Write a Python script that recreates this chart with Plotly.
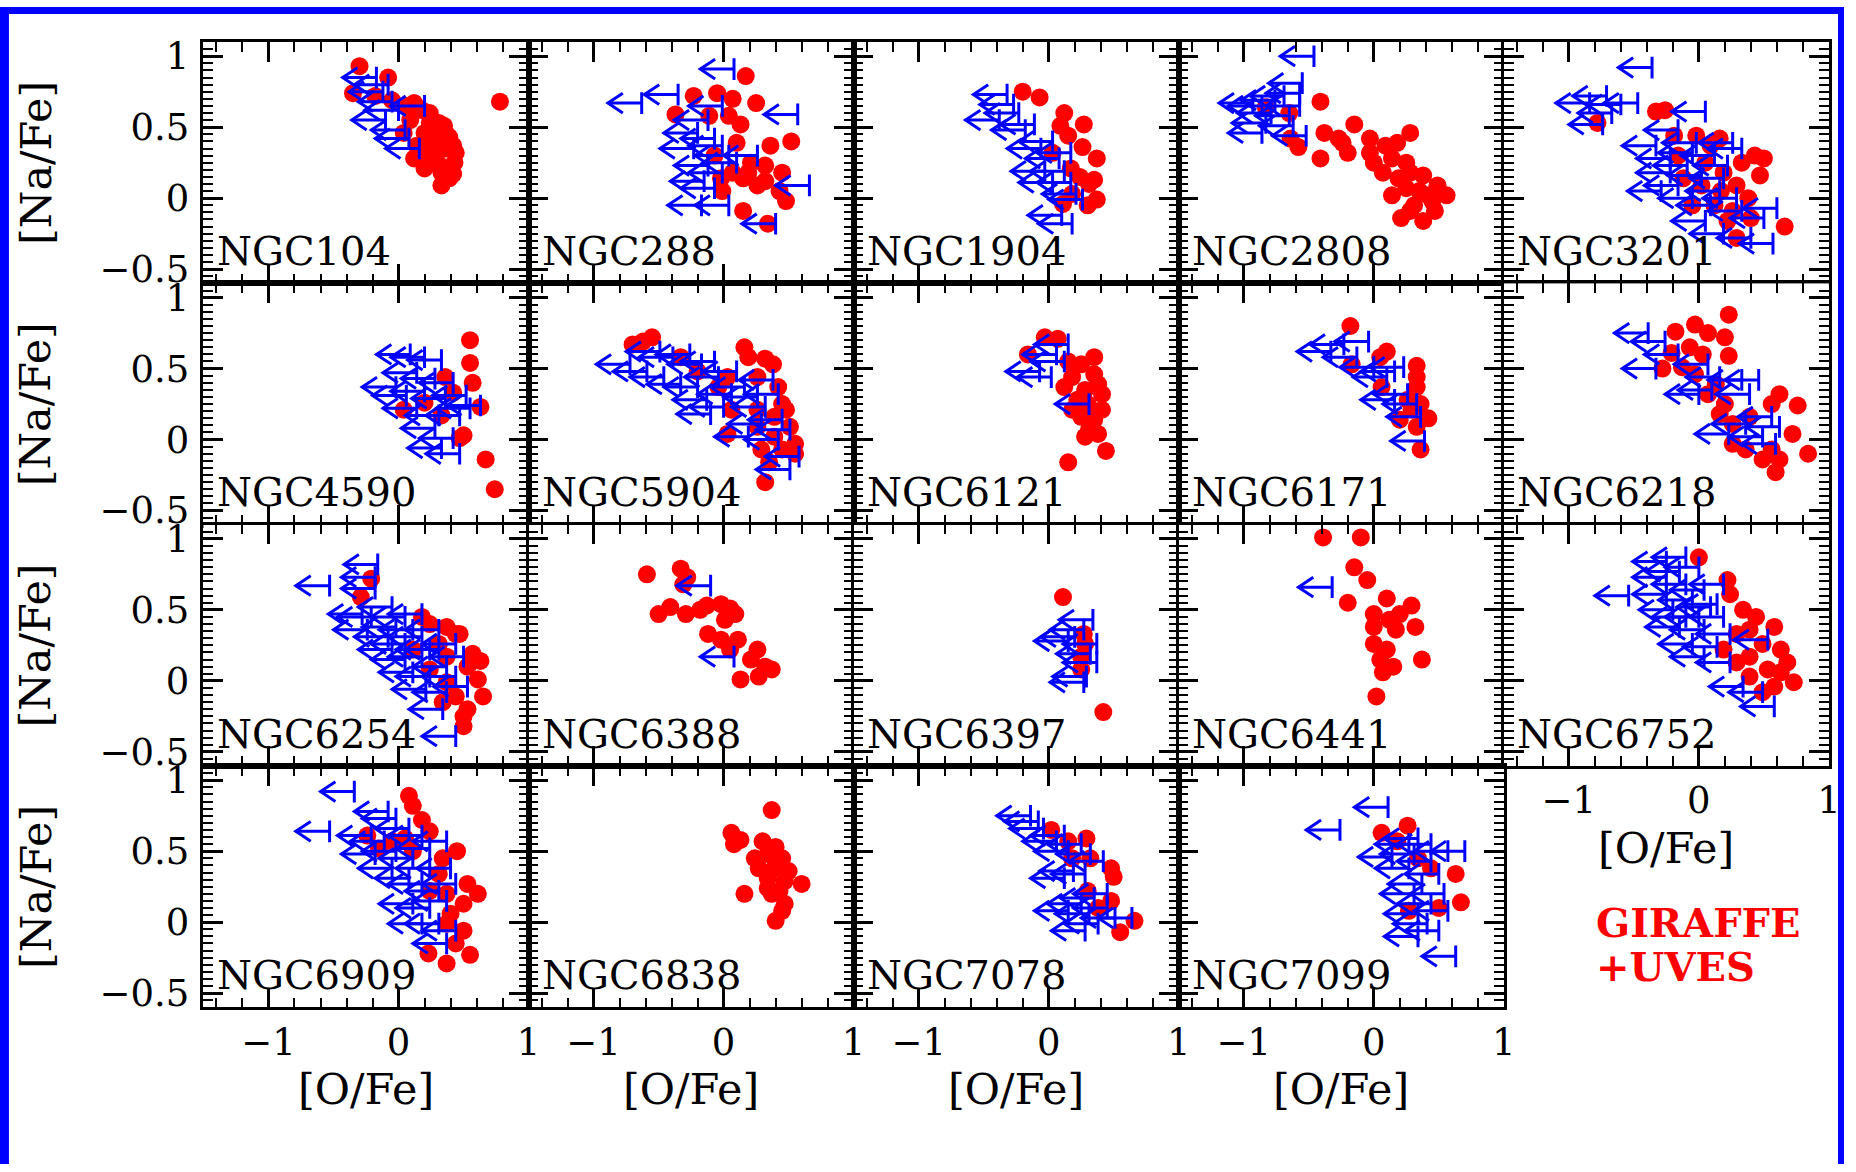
import plotly.graph_objects as go

# ---------------------------------------------------------------------------
# [Na/Fe] vs [O/Fe] for 19 globular clusters.
# *_o / *_na  : measured abundances (GIRAFFE + UVES), red dots
# *_lo / *_lna: upper limits in [O/Fe], blue left-pointing arrows
# ---------------------------------------------------------------------------

clusters = ["NGC104", "NGC288", "NGC1904", "NGC2808", "NGC3201",
            "NGC4590", "NGC5904", "NGC6121", "NGC6171", "NGC6218",
            "NGC6254", "NGC6388", "NGC6397", "NGC6441", "NGC6752",
            "NGC6909", "NGC6838", "NGC7078", "NGC7099"]

x_ticks = [-1, 0, 1]
x_tick_text = ["\u22121", "0", "1"]
y_ticks = [-0.5, 0, 0.5, 1]
y_tick_text = ["\u22120.5", "0", "0.5", "1"]

# --- NGC104 ---
ngc104_o = [-0.30, -0.08, -0.35, 0.78, -0.18, -0.05, 0.12, 0.24, 0.09, 0.31, 0.20, 0.37, 0.14, 0.28, 0.42,
            0.12, 0.28, 0.43, 0.20, 0.33, 0.39, 0.33, 0.04, 0.44, 0.36, 0.24, 0.18, 0.06, 0.30, 0.25,
            0.39, 0.20, 0.35, 0.42]
ngc104_na = [0.93, 0.85, 0.74, 0.68, 0.72, 0.69, 0.67, 0.60, 0.55, 0.53, 0.46, 0.45, 0.37, 0.39, 0.37,
             0.28, 0.30, 0.25, 0.21, 0.18, 0.14, 0.09, 0.46, 0.32, 0.35, 0.53, 0.62, 0.65, 0.25, 0.43,
             0.43, 0.32, 0.51, 0.17]
ngc104_lo = [-0.17, -0.12, -0.10, 0.20, 0.16, 0.00, 0.05, -0.05, 0.08, -0.08]
ngc104_lna = [0.85, 0.75, 0.55, 0.65, 0.35, 0.62, 0.48, 0.68, 0.42, 0.80]

# --- NGC288 ---
ngc288_o = [0.17, -0.23, -0.05, 0.07, 0.25, -0.37, 0.13, 0.52, 0.36, 0.10, 0.21, 0.32, 0.45, 0.15, 0.26,
            0.48, 0.15, 0.34, -0.02, -0.01, -0.07, 0.07, 0.32, 0.19, 0.43, -0.11, 0.04]
ngc288_na = [0.86, 0.72, 0.74, 0.70, 0.67, 0.59, 0.52, 0.40, 0.37, 0.39, 0.25, 0.23, 0.18, 0.14, 0.09,
             -0.02, -0.09, -0.18, 0.14, 0.05, 0.30, 0.18, 0.12, 0.18, 0.05, 0.58, 0.58]
ngc288_lo = [0.08, -0.35, -0.63, 0.57, -0.01, -0.12, -0.20, -0.07, -0.23, 0.26, -0.12, -0.01, 0.66, -0.07,
             0.04, 0.40, -0.17, 0.04, -0.15, -0.01, 0.10]
ngc288_lna = [0.91, 0.73, 0.67, 0.59, 0.65, 0.55, 0.46, 0.42, 0.35, 0.30, 0.23, 0.18, 0.09, 0.07,
              -0.05, -0.18, -0.05, 0.30, 0.12, 0.37, 0.25]

# --- NGC1904 ---
ngc1904_o = [-0.20, -0.07, 0.09, 0.15, 0.12, 0.37, 0.26, 0.24, 0.31, 0.37, 0.18, 0.11, 0.30, 0.03, 0.17,
             0.27, 0.35]
ngc1904_na = [0.75, 0.71, 0.51, 0.44, 0.60, 0.28, 0.36, 0.15, 0.10, -0.01, 0.03, -0.04, -0.05, 0.32, 0.21,
              0.52, 0.13]
ngc1904_lo = [-0.32, -0.27, -0.38, -0.23, -0.18, -0.11, 0.03, 0.08, 0.12, 0.03, 0.17, 0.21, 0.10, 0.18,
              -0.06, 0.17, 0.26, -0.03]
ngc1904_lna = [0.73, 0.66, 0.55, 0.60, 0.48, 0.52, 0.40, 0.28, 0.19, 0.11, 0.11, 0.03, -0.12, -0.18,
               0.35, 0.32, -0.01, 0.19]

# --- NGC2808 ---
ngc2808_o = [-0.41, -0.58, -0.41, -0.38, -0.27, -0.15, -0.20, -0.03, 0.09, 0.28, 0.18, 0.00, 0.14, 0.25,
             0.28, 0.38, 0.49, 0.56, 0.42, 0.31, 0.21, 0.38, 0.47, 0.14, 0.25, 0.35, 0.07, -0.24, -0.03,
             -0.64, -0.83, -0.65, 0.19, 0.45, 0.28]
ngc2808_na = [0.68, 0.36, 0.28, 0.46, 0.42, 0.52, 0.32, 0.42, 0.37, 0.46, 0.39, 0.25, 0.28, 0.25,
              0.18, 0.16, 0.09, 0.02, 0.02, -0.05, -0.14, -0.16, -0.09, 0.02, 0.07, 0.05, 0.18, 0.39, 0.32,
              0.42, 0.64, 0.60, 0.14, -0.02, -0.09]
ngc2808_lo = [-0.46, -0.55, -0.57, -0.86, -0.79, -0.76, -0.93, -0.83, -0.86, -0.65, -0.62, -0.52, -0.69, -0.57]
ngc2808_lna = [1.00, 0.81, 0.74, 0.65, 0.60, 0.69, 0.67, 0.53, 0.46, 0.58, 0.51, 0.44, 0.72, 0.65]

# --- NGC3201 ---
ngc3201_o = [-0.26, -0.33, 0.43, 0.47, 0.38, 0.66, 0.29, 0.22, -0.19, -0.02, 0.16, -0.16, 0.05, 0.19, 0.29,
             0.02, 0.12, 0.26, 0.40, -0.78, -0.12, 0.33, -0.05, 0.17, 0.50, 0.09]
ngc3201_na = [0.62, 0.61, 0.30, 0.16, 0.00, -0.20, -0.28, -0.16, 0.44, 0.44, 0.42, 0.30, 0.25, 0.18, 0.09,
              0.09, -0.05, -0.09, -0.14, 0.53, 0.14, 0.25, -0.05, 0.05, 0.28, 0.37]
ngc3201_lo = [-0.36, -0.71, -0.84, -0.60, -0.47, -0.74, -0.67, 0.05, -0.33, -0.16, -0.02, 0.26, -0.22,
              -0.09, 0.12, 0.33, -0.16, 0.02, 0.19, -0.05, 0.09, 0.29, 0.60, 0.05, 0.19, 0.40, 0.57, 0.33,
              0.16, -0.22, -0.05, 0.22, 0.50, -0.29]
ngc3201_lna = [0.92, 0.72, 0.67, 0.66, 0.67, 0.52, 0.60, 0.61, 0.37, 0.48, 0.39, 0.39, 0.28,
               0.23, 0.30, 0.35, 0.09, 0.16, 0.14, 0.00, -0.05, 0.00, -0.07, -0.16, -0.25, -0.28, -0.32,
               -0.09, 0.05, 0.18, 0.32, 0.23, -0.14, 0.05]

# --- NGC4590 ---
ngc4590_o = [0.55, 0.55, 0.57, 0.63, 0.04, 0.50, 0.47, 0.67, 0.74, 0.36, 0.42, 0.20, 0.33]
ngc4590_na = [0.70, 0.54, 0.40, 0.23, 0.21, 0.03, 0.01, -0.14, -0.35, 0.44, 0.33, 0.26, 0.17]
ngc4590_lo = [0.09, 0.20, 0.33, -0.02, 0.14, 0.28, 0.42, 0.20, 0.36, 0.52, 0.63, 0.14, 0.31, 0.47, 0.28,
              0.42, 0.33, 0.47, 0.06, 0.55]
ngc4590_lna = [0.60, 0.58, 0.56, 0.37, 0.47, 0.43, 0.40, 0.34, 0.29, 0.31, 0.24, 0.22, 0.17, 0.17, 0.08,
               0.01, -0.06, -0.10, 0.31, 0.22]

# --- NGC5904 ---
ngc5904_o = [-0.70, -0.62, -0.55, 0.16, 0.19, 0.32, 0.38, 0.03, 0.45, 0.42, 0.26, 0.39, 0.51, 0.26, 0.55,
             0.39, 0.45, 0.55, 0.35, 0.32, 0.03, 0.06, -0.04, -0.20, -0.33, 0.26, 0.48, 0.29]
ngc5904_na = [0.67, 0.69, 0.72, 0.65, 0.58, 0.57, 0.53, 0.44, 0.25, 0.37, 0.21, 0.16, 0.09, 0.09, -0.03,
              0.02, -0.07, -0.10, -0.16, -0.30, 0.04, 0.21, 0.37, 0.48, 0.58, 0.44, 0.21, -0.07]
ngc5904_lo = [-0.72, -0.59, -0.49, -0.39, -0.46, -0.26, -0.17, -0.33, -0.20, -0.07, -0.04, -0.13, 0.00,
              0.10, 0.16, 0.26, 0.38, 0.42, 0.19, 0.42, 0.51, 0.45, 0.58, 0.51, 0.32, 0.06, -0.10, 0.29]
ngc5904_lna = [0.53, 0.48, 0.62, 0.58, 0.44, 0.60, 0.53, 0.39, 0.37, 0.55, 0.44, 0.28, 0.23,
               0.48, 0.37, 0.30, 0.42, 0.32, 0.02, 0.00, 0.07, 0.14, -0.12, -0.21, 0.23, 0.32, 0.18, 0.11]

# --- NGC6121 ---
ngc6121_o = [-0.03, 0.07, -0.16, 0.15, 0.25, 0.35, 0.38, 0.28, 0.18, 0.12, 0.41, 0.35, 0.25, 0.18, 0.28,
             0.44, 0.15, 0.41, 0.31, 0.22, 0.38, 0.30, 0.35]
ngc6121_na = [0.72, 0.71, 0.60, 0.55, 0.53, 0.46, 0.39, 0.35, 0.44, 0.37, 0.21, 0.14, 0.16, 0.21, 0.02,
              -0.08, -0.16, 0.32, 0.07, 0.28, 0.04, 0.25, 0.58]
ngc6121_lo = [-0.07, 0.02, 0.12, 0.15, 0.31, 0.06]
ngc6121_lna = [0.48, 0.44, 0.55, 0.67, 0.25, 0.60]

# --- NGC6171 ---
ngc6171_o = [-0.18, 0.10, 0.05, -0.17, 0.33, 0.33, 0.33, 0.06, 0.26, 0.36, 0.20, 0.42, 0.33, 0.36, 0.29]
ngc6171_na = [0.80, 0.62, 0.58, 0.53, 0.52, 0.44, 0.37, 0.37, 0.28, 0.25, 0.14, 0.15, 0.09, -0.07, 0.21]
ngc6171_lo = [-0.33, -0.23, -0.04, -0.13, 0.00, 0.16, 0.23, 0.10, 0.26, 0.33, 0.16, 0.39, 0.36]
ngc6171_lna = [0.62, 0.67, 0.69, 0.58, 0.51, 0.48, 0.51, 0.44, 0.32, 0.25, 0.28, -0.01, 0.16]

# --- NGC6218 ---
ngc6218_o = [0.23, -0.03, -0.18, 0.07, 0.20, -0.07, -0.21, 0.23, -0.28, -0.13, -0.03, 0.13, 0.07, 0.20,
             0.16, 0.62, 0.76, 0.56, 0.72, 0.84, 0.26, 0.36, 0.49, 0.59, 0.62, 0.56, 0.03, 0.39, 0.26]
ngc6218_na = [0.88, 0.81, 0.76, 0.75, 0.72, 0.65, 0.61, 0.59, 0.50, 0.51, 0.46, 0.39, 0.32, 0.25,
              0.18, 0.32, 0.24, 0.25, 0.04, -0.10, -0.03, -0.07, -0.14, -0.23, -0.14, -0.07, 0.60, 0.16, 0.11]
ngc6218_lo = [-0.39, -0.26, -0.33, 0.07, 0.16, 0.10, 0.33, 0.46, 0.39, 0.56, 0.62, 0.49, 0.59, 0.36, 0.23,
              0.00, -0.16]
ngc6218_lna = [0.75, 0.69, 0.50, 0.53, 0.44, 0.35, 0.42, 0.42, 0.32, 0.16, 0.09, 0.02, -0.03, 0.11, 0.04,
               0.32, 0.60]

# --- NGC6254 ---
ngc6254_o = [-0.21, -0.29, 0.18, 0.37, 0.47, 0.57, 0.63, 0.61, 0.65, 0.53, 0.50, 0.44, 0.31, 0.37, 0.24,
             0.37, 0.44, 0.50, 0.24, 0.11, 0.34, 0.53]
ngc6254_na = [0.72, 0.59, 0.45, 0.38, 0.33, 0.19, 0.14, 0.01, -0.11, -0.20, -0.32, 0.33, 0.26, 0.17, 0.08,
              -0.01, -0.11, -0.25, 0.40, 0.22, -0.15, 0.10]
ngc6254_lo = [-0.53, -0.16, -0.18, -0.18, -0.28, -0.21, -0.24, -0.05, 0.05, 0.18, -0.08, 0.05, 0.18, 0.31,
              0.05, 0.18, 0.31, 0.44, 0.11, 0.24, 0.37, 0.50, 0.21, 0.37, 0.53, 0.34, 0.44, 0.24, -0.05,
              0.11, -0.02, 0.44]
ngc6254_lna = [0.67, 0.82, 0.73, 0.65, 0.47, 0.45, 0.36, 0.52, 0.45, 0.47, 0.31, 0.26, 0.31, 0.36,
               0.15, 0.17, 0.22, 0.26, 0.06, 0.03, 0.10, 0.17, -0.06, -0.08, -0.04, -0.20, -0.39, 0.22, 0.22,
               0.36, 0.38, 0.03]

# --- NGC6388 ---
ngc6388_o = [-0.59, -0.33, -0.28, -0.31, -0.50, -0.41, -0.29, -0.18, -0.13, -0.02, 0.05, 0.09, 0.01, -0.12,
             -0.02, 0.11, 0.05, 0.26, 0.21, 0.32, 0.37, 0.13, 0.27]
ngc6388_na = [0.75, 0.79, 0.73, 0.68, 0.47, 0.52, 0.47, 0.50, 0.53, 0.54, 0.51, 0.47, 0.43, 0.33, 0.29,
              0.29, 0.22, 0.22, 0.15, 0.10, 0.08, 0.01, 0.03]
ngc6388_lo = [-0.10, 0.08]
ngc6388_lna = [0.67, 0.17]

# --- NGC6397 ---
ngc6397_o = [0.11, 0.42, 0.27, 0.28, 0.25, 0.25]
ngc6397_na = [0.59, -0.22, 0.33, 0.26, 0.17, 0.08]
ngc6397_lo = [0.34, 0.27, 0.15, 0.37, 0.32, 0.37, 0.29, 0.27, 0.20]
ngc6397_lna = [0.43, 0.36, 0.28, 0.26, 0.19, 0.13, 0.03, -0.01, 0.31]

# --- NGC6441 ---
ngc6441_o = [-0.39, -0.10, -0.15, -0.05, -0.20, 0.10, 0.29, 0.00, 0.20, 0.32, 0.00, 0.17, 0.00, 0.10, 0.37,
             0.05, 0.15, 0.07, 0.02, 0.12]
ngc6441_na = [1.01, 1.01, 0.80, 0.71, 0.55, 0.58, 0.53, 0.47, 0.47, 0.38, 0.38, 0.36, 0.26, 0.22, 0.15,
              0.15, 0.10, 0.06, -0.11, 0.43]
ngc6441_lo = [-0.32]
ngc6441_lna = [0.66]

# --- NGC6752 ---
ngc6752_o = [0.00, 0.22, 0.24, 0.34, 0.44, 0.58, 0.29, 0.49, 0.63, 0.68, 0.39, 0.53, 0.73, 0.58, 0.39,
             0.29, 0.49, 0.19, 0.39, 0.63]
ngc6752_na = [0.87, 0.71, 0.61, 0.50, 0.45, 0.38, 0.33, 0.26, 0.22, 0.13, 0.17, 0.08, -0.01, -0.04, 0.03,
              0.13, -0.08, 0.22, 0.36, 0.06]
ngc6752_lo = [-0.25, -0.10, 0.00, -0.54, -0.25, -0.10, 0.04, -0.25, -0.05, 0.14, -0.20, 0.00, 0.19, -0.15,
              0.04, 0.24, -0.05, 0.14, 0.53, 0.04, 0.24, 0.34, 0.49, 0.58, 0.09, -0.15, 0.19, -0.10]
ngc6752_lna = [0.84, 0.87, 0.80, 0.60, 0.73, 0.68, 0.64, 0.61, 0.57, 0.54, 0.50, 0.45, 0.45, 0.38,
               0.36, 0.33, 0.26, 0.24, 0.29, 0.17, 0.13, -0.04, -0.08, -0.18, 0.52, 0.77, 0.68, 0.45]

# --- NGC6909 ---
ngc6909_o = [0.08, 0.11, 0.18, 0.24, 0.05, -0.05, -0.24, -0.15, 0.45, 0.34, 0.53, 0.61, 0.50, 0.40, 0.50,
             0.44, 0.23, 0.37, 0.55, 0.37, 0.24, 0.31, 0.11, 0.37]
ngc6909_na = [0.89, 0.82, 0.72, 0.64, 0.59, 0.57, 0.61, 0.52, 0.50, 0.45, 0.27, 0.20, 0.13, 0.06, -0.06,
              -0.15, -0.22, -0.29, -0.23, -0.01, 0.22, 0.34, 0.50, 0.20]
ngc6909_lo = [-0.34, -0.53, -0.08, -0.02, -0.21, -0.11, 0.08, 0.18, -0.18, -0.02, 0.11, 0.24, 0.37, -0.05,
              0.08, 0.24, 0.40, 0.18, 0.31, 0.44, 0.24, 0.37, 0.31, 0.44, 0.37, 0.18, 0.11]
ngc6909_lna = [0.92, 0.64, 0.78, 0.73, 0.61, 0.57, 0.66, 0.61, 0.48, 0.50, 0.45, 0.52, 0.57, 0.38,
               0.31, 0.38, 0.38, 0.27, 0.22, 0.27, 0.10, 0.15, -0.01, -0.06, -0.15, -0.01, 0.13]

# --- NGC6838 ---
ngc6838_o = [0.37, 0.06, 0.13, 0.08, 0.30, 0.40, 0.24, 0.34, 0.45, 0.27, 0.39, 0.50, 0.60, 0.34, 0.47,
             0.16, 0.37, 0.47, 0.45, 0.40, 0.34, 0.43]
ngc6838_na = [0.79, 0.63, 0.58, 0.55, 0.57, 0.53, 0.45, 0.48, 0.45, 0.38, 0.38, 0.36, 0.27, 0.31, 0.29,
              0.20, 0.20, 0.13, 0.08, 0.01, 0.24, 0.22]
ngc6838_lo = []
ngc6838_lna = []

# --- NGC7078 ---
ngc7078_o = [0.02, 0.15, 0.29, 0.18, 0.32, 0.48, 0.50, 0.30, 0.48, 0.38, 0.66, 0.55]
ngc7078_na = [0.65, 0.57, 0.59, 0.45, 0.45, 0.38, 0.32, 0.22, 0.15, 0.10, 0.01, -0.07]
ngc7078_lo = [-0.14, -0.08, -0.04, 0.12, 0.06, 0.25, 0.15, 0.32, 0.42, 0.19, 0.28, 0.12, 0.45, 0.35, 0.25,
              0.15, 0.31, 0.51, 0.64, 0.38, 0.28, 0.45]
ngc7078_lna = [0.75, 0.71, 0.66, 0.61, 0.57, 0.55, 0.50, 0.48, 0.43, 0.36, 0.34, 0.31, 0.20, 0.17, 0.13,
               0.08, 0.06, 0.03, 0.03, -0.01, -0.06, 0.10]

# --- NGC7099 ---
ngc7099_o = [0.06, 0.26, 0.18, 0.63, 0.67, 0.27, 0.50, 0.34, 0.44]
ngc7099_na = [0.63, 0.68, 0.57, 0.34, 0.14, 0.08, 0.10, 0.45, 0.38]
ngc7099_lo = [0.11, -0.26, 0.14, 0.34, 0.44, 0.57, 0.70, 0.31, 0.44, 0.27, 0.50, 0.37, 0.31, 0.54, 0.44,
              0.57, 0.34, 0.41, 0.34, 0.50, 0.63, 0.27]
ngc7099_lna = [0.81, 0.65, 0.46, 0.59, 0.55, 0.50, 0.50, 0.48, 0.43, 0.38, 0.34, 0.27, 0.20, 0.20, 0.13,
               0.08, 0.06, -0.01, -0.10, -0.06, -0.24, 0.55]

# lookup tables built from the arrays above
det_o = [ngc104_o, ngc288_o, ngc1904_o, ngc2808_o, ngc3201_o, ngc4590_o, ngc5904_o, ngc6121_o,
         ngc6171_o, ngc6218_o, ngc6254_o, ngc6388_o, ngc6397_o, ngc6441_o, ngc6752_o, ngc6909_o,
         ngc6838_o, ngc7078_o, ngc7099_o]
det_na = [ngc104_na, ngc288_na, ngc1904_na, ngc2808_na, ngc3201_na, ngc4590_na, ngc5904_na, ngc6121_na,
          ngc6171_na, ngc6218_na, ngc6254_na, ngc6388_na, ngc6397_na, ngc6441_na, ngc6752_na, ngc6909_na,
          ngc6838_na, ngc7078_na, ngc7099_na]
lim_o = [ngc104_lo, ngc288_lo, ngc1904_lo, ngc2808_lo, ngc3201_lo, ngc4590_lo, ngc5904_lo, ngc6121_lo,
         ngc6171_lo, ngc6218_lo, ngc6254_lo, ngc6388_lo, ngc6397_lo, ngc6441_lo, ngc6752_lo, ngc6909_lo,
         ngc6838_lo, ngc7078_lo, ngc7099_lo]
lim_na = [ngc104_lna, ngc288_lna, ngc1904_lna, ngc2808_lna, ngc3201_lna, ngc4590_lna, ngc5904_lna,
          ngc6121_lna, ngc6171_lna, ngc6218_lna, ngc6254_lna, ngc6388_lna, ngc6397_lna, ngc6441_lna,
          ngc6752_lna, ngc6909_lna, ngc6838_lna, ngc7078_lna, ngc7099_lna]

# ---------------------------------------------------------------------------
# page geometry (pixels)
W, H = 1856, 1172
COL_LEFT = [204.8, 532.0, 859.2, 1186.4, 1513.6]
ROW_TOP = [35.5, 280.0, 524.4, 768.9]
PW, PH = 327.2, 244.45
X_RANGE = [-1.5, 1.0]
Y_RANGE = [-0.6, 1.1]

SERIF = "DejaVu Serif"
RED = "#ff0000"
BLUE = "#0000ff"

# upper-limit symbol "<--|" : sizes in screen pixels, converted to data units
PX_PER_X = PW / (X_RANGE[1] - X_RANGE[0])
PX_PER_Y = PH / (Y_RANGE[1] - Y_RANGE[0])
ARROW_LEN, HEAD_DX, HEAD_DY, BAR_HALF = 34.0, 15.0, 10.0, 11.0


def limit_arrows(xs, ys):
    """Polyline coordinates for left-pointing upper-limit arrows ending at (x, y)."""
    L = ARROW_LEN / PX_PER_X
    a = HEAD_DX / PX_PER_X
    c = HEAD_DY / PX_PER_Y
    b = BAR_HALF / PX_PER_Y
    px, py = [], []
    for x, y in zip(xs, ys):
        px += [x, x, None, x, x - L, None, x - L + a, x - L, x - L + a, None]
        py += [y - b, y + b, None, y, y, None, y + c, y, y - c, None]
    return px, py


fig = go.Figure()
layout = dict(
    width=W, height=H, autosize=False,
    margin=dict(l=0, r=0, t=0, b=0, pad=0),
    paper_bgcolor="white", plot_bgcolor="white",
    showlegend=False,
    font=dict(family=SERIF, size=37, color="black"),
)
annotations = []

for i, name in enumerate(clusters):
    r, c = divmod(i, 5)
    n = i + 1
    sfx = "" if n == 1 else str(n)
    xa, ya = "x" + sfx, "y" + sfx

    fig.add_trace(go.Scatter(
        x=det_o[i], y=det_na[i], mode="markers", xaxis=xa, yaxis=ya,
        marker=dict(color=RED, size=18, line=dict(width=0)),
        hoverinfo="skip", name=name,
    ))
    ax_x, ax_y = limit_arrows(lim_o[i], lim_na[i])
    fig.add_trace(go.Scatter(
        x=ax_x, y=ax_y, mode="lines", xaxis=xa, yaxis=ya,
        line=dict(color=BLUE, width=3),
        hoverinfo="skip", name=name + " limits",
    ))

    x0 = COL_LEFT[c] / W
    x1 = (COL_LEFT[c] + PW) / W
    y1 = 1 - ROW_TOP[r] / H
    y0 = 1 - (ROW_TOP[r] + PH) / H
    bottom = (r == 3) or (r == 2 and c == 4)

    common = dict(
        showline=True, linecolor="black", linewidth=2.5, mirror="allticks",
        ticks="inside", tickcolor="black", tickwidth=2.5, ticklen=20,
        showgrid=False, zeroline=False, fixedrange=True,
        tickfont=dict(family=SERIF, size=37, color="black"),
    )
    layout["xaxis" + sfx] = dict(
        common, domain=[x0, x1], range=X_RANGE, anchor=ya,
        tickmode="array", tickvals=x_ticks, ticktext=x_tick_text,
        showticklabels=bottom, ticklabelstandoff=0,
        minor=dict(tick0=0, dtick=0.2, ticks="inside", ticklen=10, tickwidth=2, tickcolor="black"),
    )
    layout["yaxis" + sfx] = dict(
        common, domain=[y0, y1], range=Y_RANGE, anchor=xa,
        tickmode="array", tickvals=y_ticks, ticktext=y_tick_text,
        showticklabels=(c == 0), ticklabelstandoff=4,
        minor=dict(tick0=0, dtick=0.05, ticks="inside", ticklen=10, tickwidth=2, tickcolor="black"),
    )

    # cluster name in the lower-left corner of each panel
    annotations.append(dict(
        text=name, xref=xa + " domain", yref=ya + " domain", x=0.035, y=0.03,
        xanchor="left", yanchor="bottom", showarrow=False,
        font=dict(family=SERIF, size=40, color="black"),
    ))

    if c == 0:
        annotations.append(dict(
            text="[Na/Fe]", xref="paper", yref="paper", x=35.5 / W,
            y=1 - (ROW_TOP[r] + PH / 2) / H, textangle=-90,
            xanchor="center", yanchor="middle", showarrow=False,
            font=dict(family=SERIF, size=43, color="black"),
        ))
    if bottom:
        annotations.append(dict(
            text="[O/Fe]", xref="paper", yref="paper",
            x=(COL_LEFT[c] + PW / 2) / W, y=1 - (ROW_TOP[r] + PH + 83) / H,
            xanchor="center", yanchor="middle", showarrow=False,
            font=dict(family=SERIF, size=43, color="black"),
        ))

# instrument note
annotations.append(dict(
    text="<b>GIRAFFE</b>", xref="paper", yref="paper", x=1604 / W, y=1 - 927 / H,
    xanchor="left", yanchor="middle", showarrow=False,
    font=dict(family=SERIF, size=40, color=RED),
))
annotations.append(dict(
    text="<b>+UVES</b>", xref="paper", yref="paper", x=1604 / W, y=1 - 972 / H,
    xanchor="left", yanchor="middle", showarrow=False,
    font=dict(family=SERIF, size=40, color=RED),
))

layout["annotations"] = annotations

# blue frame around the page
layout["shapes"] = [
    dict(type="rect", xref="paper", yref="paper", x0=0, x1=9 / W, y0=0, y1=1,
         fillcolor=BLUE, line=dict(width=0), layer="above"),
    dict(type="rect", xref="paper", yref="paper", x0=0, x1=1, y0=1 - 7 / H, y1=1,
         fillcolor=BLUE, line=dict(width=0), layer="above"),
    dict(type="rect", xref="paper", yref="paper", x0=1 - 6 / W, x1=1, y0=0, y1=1,
         fillcolor=BLUE, line=dict(width=0), layer="above"),
]

fig.update_layout(**layout)
fig.write_html("out.html")
